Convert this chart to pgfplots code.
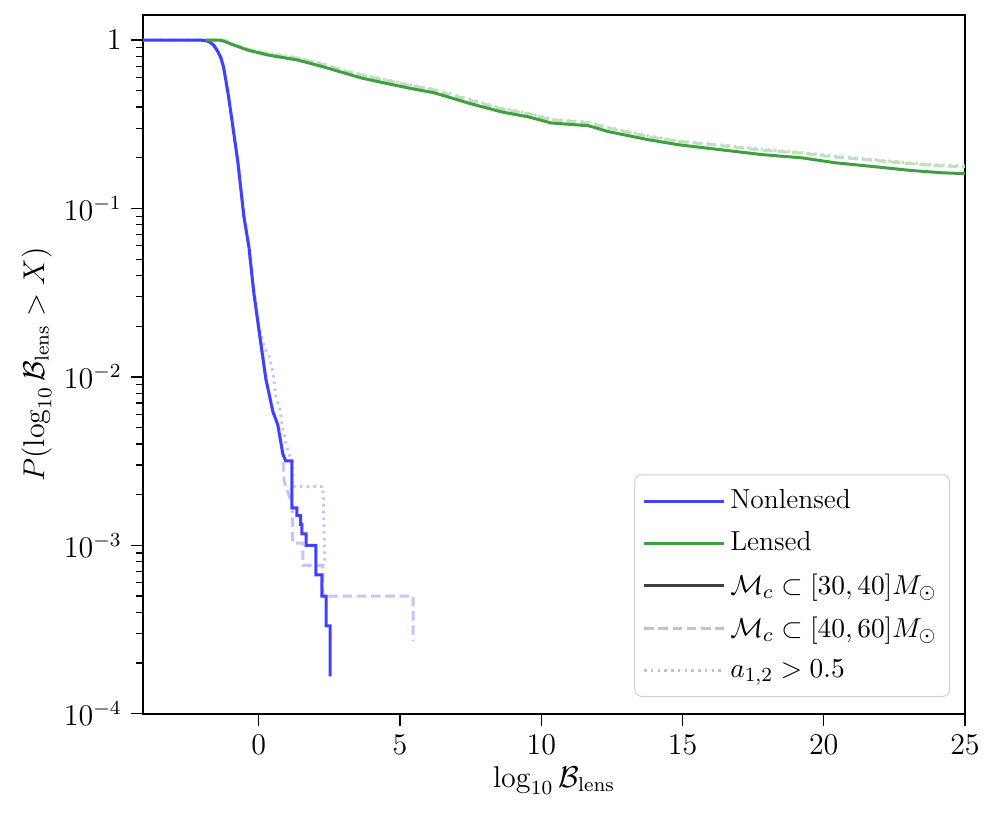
\documentclass[border=0pt]{standalone}
\usepackage{pgfplots}
\pgfplotsset{compat=1.18}
\usepackage{amsmath}

\definecolor{nlblue}{RGB}{64,64,255}
\definecolor{nlbluelight}{RGB}{196,196,255}
\definecolor{lgreen}{RGB}{64,160,64}
\definecolor{lgreenlight}{RGB}{191,223,191}
\definecolor{keydark}{RGB}{64,64,64}
\definecolor{keylight}{RGB}{196,196,196}

\begin{document}
\begin{tikzpicture}
\begin{axis}[
    scale only axis,
    width=11.55cm, height=9.82cm,
    xmin=-4.1, xmax=25,
    ymode=log, ymin=1e-4, ymax=1.41,
    xtick={0,5,10,15,20,25},
    ytick={1e-4,1e-3,1e-2,1e-1,1},
    yticklabels={$10^{-4}$,$10^{-3}$,$10^{-2}$,$10^{-1}$,$1$},
    xtick pos=bottom, ytick pos=left,
    tick align=outside,
    major tick length=5pt, minor tick length=3pt,
    every tick/.style={black, line width=0.5pt},
    tick label style={font=\large},
    label style={font=\large},
    axis line style={line width=0.6pt},
    xlabel={$\log_{10}\mathcal{B}_{\rm lens}$},
    ylabel={$P(\log_{10}\mathcal{B}_{\rm lens} > X)$},
    xlabel style={yshift=2pt},
    ylabel style={yshift=-2pt},
    legend cell align=left,
    legend style={at={(0.982,0.024)}, anchor=south east,
        font=\fontsize{11}{13}\selectfont,
        draw=black!18, rounded corners=3pt, fill=white,
        inner xsep=3.2pt, inner ysep=4pt, row sep=3.6pt},
    legend image code/.code={\draw[#1] (0cm,0cm) -- (0.87cm,0cm);
        \path (0cm,0cm) -- (1.12cm,0cm);},
    every axis plot/.append style={line width=1.2pt},
]

% nonlensed, Mc in [40,60]
\addplot[nlbluelight, dash pattern=on 3.8pt off 1.9pt, forget plot] coordinates {
(-4.2,1) (-2.1,1) (-1.9,0.993) (-1.75,0.975) (-1.6,0.933) (-1.48,0.87)
(-1.35,0.79) (-1.25,0.69) (-1.17,0.58) (-1.08,0.47) (-0.99,0.37)
(-0.86,0.26) (-0.74,0.187) (-0.53,0.0897) (-0.35,0.0588) (-0.18,0.0318)
(0.0,0.0192) (0.25,0.0097) (0.5,0.0062) (0.67,0.0052) (0.85,0.0034)
(0.9,0.0024) (1.15,0.0018) (1.2,0.0017) (1.2,0.00103) (1.56,0.00103)
(1.56,0.00076) (2.27,0.00076) (2.27,0.0005) (5.46,0.0005) (5.46,0.00027)
};
% nonlensed, a12 > 0.5
\addplot[nlbluelight, dash pattern=on 1pt off 1.7pt, forget plot] coordinates {
(-4.2,1) (-2.1,1) (-1.9,0.993) (-1.75,0.977) (-1.6,0.935) (-1.48,0.875)
(-1.35,0.8) (-1.25,0.7) (-1.17,0.59) (-1.08,0.48) (-0.99,0.38)
(-0.86,0.265) (-0.74,0.19) (-0.53,0.092) (-0.35,0.06) (-0.18,0.033)
(0.0,0.02) (0.22,0.0146) (0.35,0.0135) (0.5,0.0107) (0.6,0.0077)
(0.74,0.0065) (0.85,0.0049) (1.03,0.0036) (1.2,0.0031) (1.2,0.00223)
(2.27,0.00223) (2.34,0.00076)
};
% lensed, Mc in [40,60]
\addplot[lgreenlight, dash pattern=on 3.8pt off 1.9pt, forget plot] coordinates {
(-1.88,1.0) (-1.24,1.0) (-0.89,0.94) (-0.39,0.88) (0.32,0.83) (1.38,0.78)
(2.30,0.715) (3.26,0.64) (4.43,0.58) (5.28,0.54) (6.21,0.505) (7.06,0.46)
(8.58,0.39) (9.54,0.365) (10.35,0.336) (11.67,0.322) (12.38,0.30)
(13.79,0.267) (14.86,0.25) (16.38,0.236) (17.80,0.222) (19.22,0.213)
(20.39,0.202) (21.81,0.193) (23.12,0.184) (24.18,0.179) (25.0,0.177)
};
% lensed, a12 > 0.5
\addplot[lgreenlight, dash pattern=on 1pt off 1.7pt, forget plot] coordinates {
(-1.88,1.0) (-1.24,1.0) (-0.89,0.945) (-0.39,0.885) (0.32,0.835) (1.38,0.785)
(2.30,0.72) (3.26,0.645) (4.43,0.585) (5.28,0.545) (6.21,0.51) (7.06,0.465)
(8.58,0.395) (9.54,0.368) (10.35,0.34) (11.67,0.325) (12.38,0.303)
(13.79,0.27) (14.86,0.252) (16.38,0.238) (17.80,0.225) (19.22,0.215)
(20.39,0.205) (21.81,0.195) (23.12,0.186) (24.18,0.181) (25.0,0.179)
};
% nonlensed, Mc in [30,40]
\addplot[nlblue, forget plot] coordinates {
(-4.2,1) (-2.1,1) (-1.9,0.993) (-1.75,0.975) (-1.6,0.933) (-1.48,0.87)
(-1.35,0.79) (-1.25,0.69) (-1.17,0.58) (-1.08,0.47) (-0.99,0.37)
(-0.86,0.26) (-0.74,0.187) (-0.53,0.0897) (-0.35,0.0588) (-0.18,0.0318)
(0.0,0.0192) (0.25,0.0097) (0.5,0.0062) (0.67,0.0052) (0.85,0.0035)
(0.95,0.00317) (1.17,0.00317) (1.17,0.00167) (1.35,0.00167) (1.35,0.0015)
(1.48,0.0015) (1.48,0.00133) (1.52,0.00133) (1.52,0.00117) (1.67,0.00117)
(1.67,0.001) (2.02,0.001) (2.02,0.000667) (2.23,0.000667) (2.23,0.0005)
(2.38,0.0005) (2.38,0.000333) (2.52,0.000333) (2.52,0.000167)
};
% lensed, Mc in [30,40]
\addplot[lgreen, forget plot] coordinates {
(-1.88,1.0) (-1.4,1.0) (-1.24,0.985) (-0.89,0.934) (-0.39,0.872) (0.32,0.815) (1.38,0.761)
(2.30,0.692) (3.26,0.621) (3.62,0.596) (4.43,0.557) (5.28,0.520) (6.21,0.486)
(7.06,0.441) (7.41,0.423) (8.58,0.375) (9.54,0.350) (10.35,0.322)
(11.67,0.310) (12.38,0.286) (13.79,0.256) (14.86,0.239) (16.38,0.223)
(17.80,0.209) (19.22,0.200) (20.39,0.187) (21.81,0.177) (23.12,0.168)
(24.18,0.163) (25.0,0.161)
};

\addlegendimage{nlblue, line width=1.2pt}
\addlegendentry{Nonlensed}
\addlegendimage{lgreen, line width=1.2pt}
\addlegendentry{Lensed}
\addlegendimage{keydark, line width=1.2pt}
\addlegendentry{$\mathcal{M}_c \subset [30,40] M_\odot$}
\addlegendimage{keylight, line width=1.2pt, dash pattern=on 3.8pt off 1.9pt}
\addlegendentry{$\mathcal{M}_c \subset [40,60] M_\odot$}
\addlegendimage{keylight, line width=1.2pt, dash pattern=on 1pt off 1.7pt}
\addlegendentry{$a_{1,2} > 0.5$}
\end{axis}
\path (current axis.north east) ++(0.45cm,0.21cm);
\path (current axis.south west) ++(-2.01cm,-1.5cm);
\end{tikzpicture}
\end{document}
